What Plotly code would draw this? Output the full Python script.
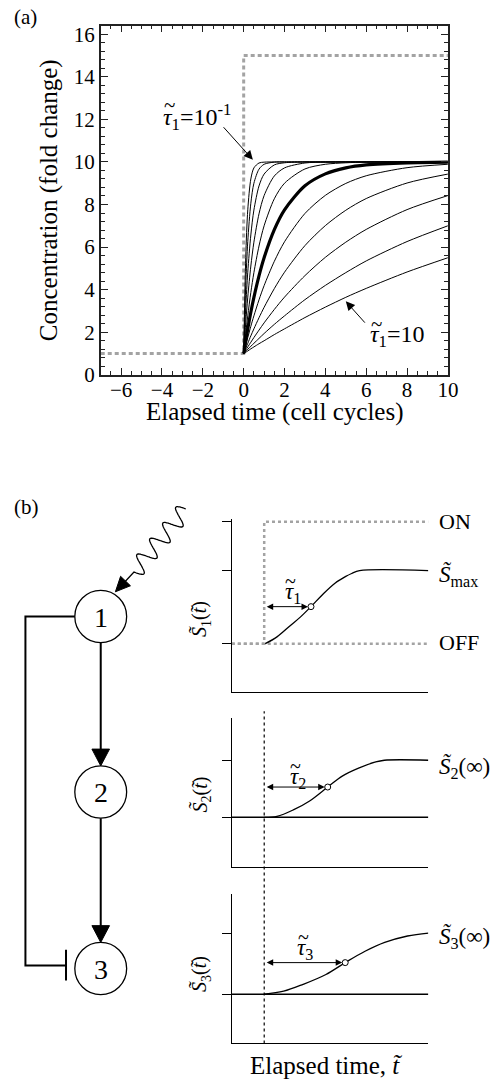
import numpy as np
import plotly.graph_objects as go

W, H = 499, 1091
FONT = "Liberation Serif"


def px(x):
    return x / W


def py(y):
    return 1 - y / H


# ---------------- Panel (a) data ----------------
t_a = [0, 0.1, 0.2, 0.35, 0.5, 0.75, 1, 1.5, 2, 3, 4, 5, 6, 8, 10]
tau_values = [0.1, 0.158, 0.251, 0.398, 0.631, 1.0, 1.585, 2.512, 3.981, 6.31, 10.0]
resp_tau_0p10 = [1, 5.50, 7.75, 9.20, 9.72, 9.95, 9.99, 10, 10, 10, 10, 10, 10, 10, 10]
resp_tau_0p16 = [1, 4.20, 6.26, 8.06, 9.00, 9.66, 9.89, 9.99, 10, 10, 10, 10, 10, 10, 10]
resp_tau_0p25 = [1, 3.17, 4.82, 6.57, 7.74, 8.87, 9.43, 9.86, 9.96, 10, 10, 10, 10, 10, 10]
resp_tau_0p40 = [1, 2.44, 3.65, 5.11, 6.23, 7.56, 8.42, 9.34, 9.72, 9.95, 9.99, 10, 10, 10, 10]
resp_tau_0p63 = [1, 1.94, 2.77, 3.87, 4.80, 6.05, 7.00, 8.27, 9.00, 9.67, 9.89, 9.96, 9.99, 10, 10]
resp_tau_1p0 = [1, 1.60, 2.16, 2.94, 3.64, 4.65, 5.50, 6.82, 7.75, 8.88, 9.44, 9.72, 9.86, 9.96, 9.99]
resp_tau_1p6 = [1, 1.39, 1.75, 2.28, 2.77, 3.52, 4.19, 5.33, 6.25, 7.58, 8.43, 8.99, 9.35, 9.73, 9.89]
resp_tau_2p5 = [1, 1.25, 1.48, 1.83, 2.16, 2.68, 3.17, 4.05, 4.82, 6.07, 7.01, 7.73, 8.28, 9.01, 9.43]
resp_tau_4p0 = [1, 1.16, 1.31, 1.53, 1.75, 2.10, 2.44, 3.07, 3.65, 4.66, 5.52, 6.23, 6.83, 7.76, 8.42]
resp_tau_6p3 = [1, 1.10, 1.20, 1.34, 1.48, 1.71, 1.94, 2.37, 2.77, 3.53, 4.20, 4.80, 5.35, 6.26, 7.00]
resp_tau_10 = [1, 1.06, 1.12, 1.22, 1.31, 1.46, 1.60, 1.89, 2.16, 2.69, 3.18, 3.64, 4.06, 4.83, 5.50]
responses = [resp_tau_0p10, resp_tau_0p16, resp_tau_0p25, resp_tau_0p40, resp_tau_0p63,
             resp_tau_1p0, resp_tau_1p6, resp_tau_2p5, resp_tau_4p0, resp_tau_6p3, resp_tau_10]

input_t = [-7, 0, 0, 10]
input_y = [1, 1, 15, 15]

x_ticks_a = [-6, -4, -2, 0, 2, 4, 6, 8, 10]
y_ticks_a = [0, 2, 4, 6, 8, 10, 12, 14, 16]

# ---------------- Panel (b) data ----------------
s1_t = [1.7, 2.3, 3.0, 3.5, 4.03, 4.6, 5.25, 5.8, 6.1, 6.5, 10]
s1_y = [1.0, 1.14, 1.38, 1.55, 1.76, 2.0, 2.24, 2.38, 2.44, 2.5, 2.5]
s1_input_t = [0, 1.65, 1.65, 10]
s1_input_y = [1, 1, 3.5, 3.5]
s1_half = (4.03, 1.76)

s2_t = [1.65, 2.3, 3.13, 3.96, 4.88, 5.62, 6.45, 7.28, 7.76, 10]
s2_y = [1.0, 1.02, 1.15, 1.33, 1.61, 1.83, 1.99, 2.11, 2.15, 2.15]
s2_half = (4.88, 1.61)

s3_t = [1.65, 2.64, 3.63, 4.79, 5.77, 6.78, 7.78, 8.94, 10]
s3_y = [1.0, 1.06, 1.2, 1.4, 1.64, 1.87, 2.05, 2.18, 2.24]
s3_half = (5.77, 1.64)

t_start = 1.65

node_labels = ["1", "2", "3"]
node_x = [103, 103, 103]
node_y = [622, 800, 979]
node_r = 26.5

fig = go.Figure()

# ---- Panel (a) traces
fig.add_trace(go.Scatter(x=input_t, y=input_y, mode="lines",
                         line=dict(color="#a3a3a3", width=3, dash="4px,3px"),
                         xaxis="x", yaxis="y", hoverinfo="skip", showlegend=False))
for tau, ys in zip(tau_values, responses):
    fig.add_trace(go.Scatter(x=t_a, y=ys, mode="lines",
                             line=dict(color="black", width=3.2 if tau == 1.0 else 1,
                                       shape="spline", smoothing=0.8),
                             xaxis="x", yaxis="y", hoverinfo="skip", showlegend=False))

# ---- Panel (b) sub-plot traces
gray = dict(color="#a3a3a3", width=2.5, dash="3px,3px")
fig.add_trace(go.Scatter(x=[0, 10], y=[1, 1], mode="lines", line=gray,
                         xaxis="x3", yaxis="y3", hoverinfo="skip", showlegend=False))
fig.add_trace(go.Scatter(x=s1_input_t, y=s1_input_y, mode="lines", line=gray,
                         xaxis="x3", yaxis="y3", hoverinfo="skip", showlegend=False))
fig.add_trace(go.Scatter(x=s1_t, y=s1_y, mode="lines",
                         line=dict(color="black", width=1.3, shape="spline"),
                         xaxis="x3", yaxis="y3", hoverinfo="skip", showlegend=False))

for xa, ya, tt, yy in [("x4", "y4", s2_t, s2_y), ("x5", "y5", s3_t, s3_y)]:
    fig.add_trace(go.Scatter(x=[0, 10], y=[1, 1], mode="lines",
                             line=dict(color="black", width=1.5),
                             xaxis=xa, yaxis=ya, hoverinfo="skip", showlegend=False))
    fig.add_trace(go.Scatter(x=tt, y=yy, mode="lines",
                             line=dict(color="black", width=1.3, shape="spline"),
                             xaxis=xa, yaxis=ya, hoverinfo="skip", showlegend=False))

for xa, ya, hp in [("x3", "y3", s1_half), ("x4", "y4", s2_half), ("x5", "y5", s3_half)]:
    fig.add_trace(go.Scatter(x=[hp[0]], y=[hp[1]], mode="markers",
                             marker=dict(symbol="circle", size=6, color="white",
                                         line=dict(color="black", width=1)),
                             xaxis=xa, yaxis=ya, hoverinfo="skip", showlegend=False))

shapes = []
annotations = []

# ---- Diagram (axes x2/y2, units = pixels)
line_k = dict(color="black", width=2)
for lab, nx, ny in zip(node_labels, node_x, node_y):
    shapes.append(dict(type="circle", xref="x2", yref="y2",
                       x0=nx - node_r, x1=nx + node_r, y0=ny - node_r, y1=ny + node_r,
                       line=dict(color="black", width=1.3), fillcolor="white"))
    annotations.append(dict(xref="x2", yref="y2", x=nx, y=ny + 1, text=lab, showarrow=False,
                            font=dict(family=FONT, size=28, color="black")))

ah_len, ah_half = 17, 9
for i in range(2):
    x = node_x[i]
    y_from = node_y[i] + node_r
    tip = node_y[i + 1] - node_r
    base = tip - ah_len
    shapes.append(dict(type="line", xref="x2", yref="y2", x0=x, x1=x, y0=y_from, y1=base + 1,
                       line=line_k))
    shapes.append(dict(type="path", xref="x2", yref="y2",
                       path=f"M{x - ah_half},{base} L{x + ah_half},{base} L{x},{tip} Z",
                       fillcolor="black", line=dict(color="black", width=1)))

# feedback inhibition
fb_x = 26
bar_x = node_x[2] - node_r - 9
shapes.append(dict(type="path", xref="x2", yref="y2",
                   path=(f"M{node_x[0] - node_r},{node_y[0]} L{fb_x},{node_y[0]} "
                         f"L{fb_x},{node_y[2] - 3} L{bar_x},{node_y[2] - 3}"),
                   line=line_k))
shapes.append(dict(type="line", xref="x2", yref="y2", x0=bar_x, x1=bar_x,
                   y0=node_y[2] - 19, y1=node_y[2] + 12, line=line_k))

# wavy signal
w_start = np.array([190.0, 513.0])
w_end = np.array([137.0, 577.0])
d = w_end - w_start
Ld = np.hypot(*d)
u = d / Ld
perp = np.array([-u[1], u[0]])
s = np.linspace(0, 1, 240)
wave = w_start[None, :] + s[:, None] * d[None, :] + 9.0 * np.sin(2 * np.pi * 4.0 * s)[:, None] * perp[None, :]
tipw = np.array([118.0, 597.0])
dirw = (tipw - w_end) / np.hypot(*(tipw - w_end))
pw = np.array([-dirw[1], dirw[0]])
basew = tipw - 15 * dirw
path = "M" + " L".join(f"{a:.1f},{b:.1f}" for a, b in wave)
path += f" L{basew[0] + 0.5 * dirw[0]:.1f},{basew[1] + 0.5 * dirw[1]:.1f}"
shapes.append(dict(type="path", xref="x2", yref="y2", path=path,
                   line=dict(color="black", width=1.3)))
b1 = basew + 7 * pw
b2 = basew - 7 * pw
shapes.append(dict(type="path", xref="x2", yref="y2",
                   path=f"M{b1[0]:.1f},{b1[1]:.1f} L{b2[0]:.1f},{b2[1]:.1f} L{tipw[0]:.1f},{tipw[1]:.1f} Z",
                   fillcolor="black", line=dict(color="black", width=1)))

# dashed onset line through panels 2 and 3
shapes.append(dict(type="line", xref="x4", yref="paper", x0=t_start, x1=t_start,
                   y0=py(1055), y1=py(718), line=dict(color="black", width=1.2, dash="3px,3px")))


# ---- Annotations
def txt(x, y, text, size, xanchor="center", angle=0):
    annotations.append(dict(xref="paper", yref="paper", x=px(x), y=py(y), text=text,
                            showarrow=False, xanchor=xanchor, yanchor="middle",
                            textangle=angle,
                            font=dict(family=FONT, size=size, color="black")))


def tau_label(xl, yc, rest, size):
    # tau glyph with a tilde drawn above it
    txt(xl, yc, "<i>τ</i>" + rest, size, "left")
    txt(xl + 0.36 * size, yc - 0.52 * size, "~", int(size * 0.9))


txt(12, 14, "(a)", 21, "left")
txt(12, 511, "(b)", 21, "left")
txt(50, 200, "Concentration (fold change)", 25, angle=-90)
txt(281, 415, "Elapsed time (cell cycles)", 25)

tau_label(165, 116, "<sub>1</sub>=10<sup>-1</sup>", 24)
tau_label(376, 338, "<sub>1</sub>=10", 24)
annotations.append(dict(xref="x", yref="y", x=0.45, y=10.1, ax=-1.05, ay=11.7,
                        axref="x", ayref="y", text="", showarrow=True,
                        arrowhead=2, arrowsize=1.8, arrowwidth=1, arrowcolor="black"))
annotations.append(dict(xref="x", yref="y", x=5.0, y=3.45, ax=6.0, ay=2.38,
                        axref="x", ayref="y", text="", showarrow=True,
                        arrowhead=2, arrowsize=1.8, arrowwidth=1, arrowcolor="black"))

# panel (b) labels
txt(447, 526, "ON", 22, "left")
txt(447, 648, "OFF", 22, "left")
txt(447, 580, "<i>S̃</i><sub>max</sub>", 23, "left")
txt(447, 775, "<i>S̃</i><sub>2</sub>(∞)", 23, "left")
txt(447, 948, "<i>S̃</i><sub>3</sub>(∞)", 23, "left")
tau_label(289, 598, "<sub>1</sub>", 23)
tau_label(294, 786, "<sub>2</sub>", 23)
tau_label(302, 959, "<sub>3</sub>", 23)
for k, yc in zip(["1", "2", "3"], [624, 802, 984]):
    txt(206, yc, f"<i>S̃</i><sub>{k}</sub>(<i>t̃</i>)", 20, angle=-90)
txt(333, 1077, "Elapsed time, <i>t̃</i>", 25)

for xa, ya, hp in [("x3", "y3", s1_half), ("x4", "y4", s2_half), ("x5", "y5", s3_half)]:
    annotations.append(dict(xref=xa, yref=ya, x=hp[0], y=hp[1], ax=t_start + 0.05, ay=hp[1],
                            axref=xa, ayref=ya, text="", showarrow=True, arrowside="end+start",
                            arrowhead=2, arrowsize=1.3, arrowwidth=1, standoff=3,
                            arrowcolor="black"))

axis_a = dict(showline=True, linecolor="#222", linewidth=1.6, mirror="allticks",
              ticks="inside", ticklen=7, tickwidth=1.3, tickcolor="#222",
              showgrid=False, zeroline=False,
              tickfont=dict(family=FONT, size=21, color="black"))

sub_x = dict(domain=[px(237), px(438)], range=[0, 10], showline=True, linecolor="black",
             linewidth=1.2, ticks="", showticklabels=False, showgrid=False, zeroline=False)


def sub_y(dom, rng, tv):
    return dict(domain=dom, range=rng, showline=True, linecolor="black", linewidth=1.2,
                ticks="outside", ticklen=9, tickwidth=1.2, tickcolor="black",
                tickvals=tv, showticklabels=False, showgrid=False, zeroline=False)


fig.update_layout(
    width=W, height=H, autosize=False,
    margin=dict(l=0, r=0, t=0, b=0),
    paper_bgcolor="white", plot_bgcolor="rgba(0,0,0,0)",
    font=dict(family=FONT, color="black"),
    showlegend=False,
    xaxis=dict(domain=[px(103), px(458)], range=[-7, 10], anchor="y",
               tickvals=x_ticks_a, ticklabelstandoff=-5,
               minor=dict(dtick=0.5, ticklen=4, ticks="inside", tickcolor="#222"),
               **axis_a),
    yaxis=dict(domain=[py(377), py(23)], range=[0, 16.4], anchor="x",
               tickvals=y_ticks_a,
               minor=dict(dtick=0.4, ticklen=4, ticks="inside", tickcolor="#222"),
               **axis_a),
    xaxis2=dict(domain=[0, px(200)], range=[0, 200], visible=False, anchor="y2"),
    yaxis2=dict(domain=[0, py(500)], range=[1091, 500], visible=False, anchor="x2"),
    xaxis3=dict(anchor="y3", **sub_x),
    yaxis3=sub_y([py(699), py(699 - 3.55 * 49.4)], [0, 3.55], [1, 2.5, 3.5]) | dict(anchor="x3"),
    xaxis4=dict(anchor="y4", **sub_x),
    yaxis4=sub_y([py(876), py(725)], [0, 3], [1, 2.15]) | dict(anchor="x4"),
    xaxis5=dict(anchor="y5", **sub_x),
    yaxis5=sub_y([py(1055), py(903)], [0, 3.04], [1, 2.24]) | dict(anchor="x5"),
    shapes=shapes,
    annotations=annotations,
)

fig.write_html("out.html")
